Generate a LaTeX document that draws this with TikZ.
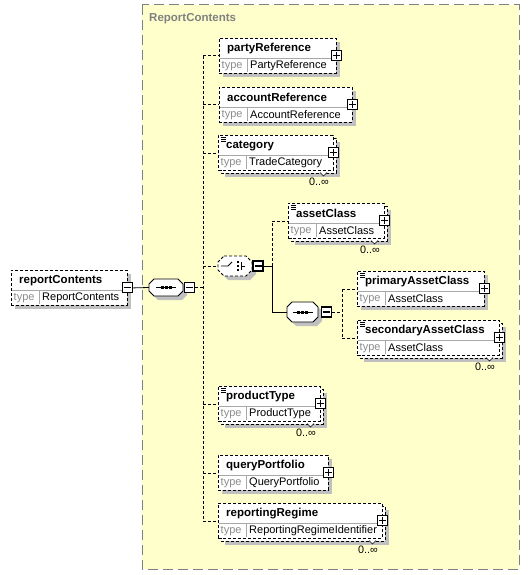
\documentclass[tikz,border=0pt]{standalone}
\usepackage{fontspec}
\setmainfont{Liberation Sans}
\usetikzlibrary{calc}
\definecolor{bgy}{HTML}{FFFFCC}
\definecolor{bgb}{HTML}{808080}
\definecolor{shd}{HTML}{C0C0C0}
\definecolor{sepg}{HTML}{A8A8A8}
\definecolor{typeg}{HTML}{8C8C8C}
\tikzset{
  elbox/.style={draw=black, dash pattern=on 3pt off 2pt, fill=white, line width=0.8pt, inner sep=0pt, anchor=north west},
  backbox/.style={draw=black, dash pattern=on 3pt off 2pt, fill=white, line width=0.8pt},
  pmbox/.style={draw=black, fill=white, line width=1.1pt, minimum size=10pt, inner sep=0pt},
  titletext/.style={inner sep=0pt, anchor=west, font=\fontsize{11.5}{13}\selectfont\bfseries},
  typelabel/.style={inner sep=0pt, anchor=west, text=typeg, font=\fontsize{11}{12}\selectfont},
  typetext/.style={inner sep=0pt, anchor=west, font=\fontsize{11}{12}\selectfont},
  occtext/.style={inner sep=0pt, anchor=north east, font=\fontsize{10.8}{12}\selectfont},
  conn/.style={draw=black, line width=0.8pt},
  dconn/.style={draw=black, line width=0.8pt, dash pattern=on 3pt off 2pt},
}
% inner parts of an element box: x, y, w, title, type, doc
\newcommand\elinner[6]{%
  \draw[sepg, line width=0.8pt] (#1+1,#2+20) -- (#1+#3-1,#2+20);
  \draw[sepg, line width=0.8pt] (#1+28,#2+20) -- (#1+28,#2+34);
  \node[titletext] at (#1+8,#2+10.5) {#4};
  \node[typelabel] at (#1+2.5,#2+28) {type};
  \node[typetext] at (#1+31,#2+28) {#5};
  \ifnum#6=1
    \draw[black, line width=0.7pt] (#1+3,#2+2.5) -- (#1+8,#2+2.5) (#1+3,#2+4.5) -- (#1+8,#2+4.5) (#1+3,#2+6.5) -- (#1+8,#2+6.5);
  \fi
}
\newcommand\plusat[1]{%
  \node[pmbox] (#1-p) at (#1.east) {};
  \draw[line width=1.1pt] ($(#1-p.center)+(-3.5,0)$) -- ($(#1-p.center)+(3.5,0)$)
    ($(#1-p.center)+(0,-3.5)$) -- ($(#1-p.center)+(0,3.5)$);
}
% single element: name, x, y, w, title, type, doc
\newcommand\sel[7]{%
  \fill[shd] (#2+4,#3+4) rectangle ++(#4,35);
  \node[elbox, minimum width=#4pt, minimum height=35pt] (#1) at (#2,#3) {};
  \elinner{#2}{#3}{#4}{#5}{#6}{#7}
  \plusat{#1}
}
% multiple element: name, x, y, w, title, type, doc
\newcommand\mel[7]{%
  \fill[shd] (#2+7,#3+7) rectangle ++(#4,35);
  \draw[backbox] (#2+3,#3+3) rectangle ++(#4,35);
  \node[elbox, minimum width=#4pt, minimum height=35pt] (#1) at (#2,#3) {};
  \elinner{#2}{#3}{#4}{#5}{#6}{#7}
  \draw[black, line width=0.6pt, fill=white] (#2+#4-13,#3+37.5) -- (#2+#4-9.5,#3+41) -- (#2+#4-6,#3+37.5);
  \node[occtext] at (#2+#4-4,#3+43) {0..∞};
  \plusat{#1}
}
% octagon: name, cx, cy, hw, hh, chamfer, style
\newcommand\octo[7]{%
  \begin{scope}[shift={(4,4)}]
    \fill[shd] (#2-#4+#6,#3-#5) -- (#2+#4-#6,#3-#5) -- (#2+#4,#3-#5+#6) -- (#2+#4,#3+#5-#6) -- (#2+#4-#6,#3+#5) -- (#2-#4+#6,#3+#5) -- (#2-#4,#3+#5-#6) -- (#2-#4,#3-#5+#6) -- cycle;
  \end{scope}
  \draw[#7, fill=white] (#2-#4+#6,#3-#5) -- (#2+#4-#6,#3-#5) -- (#2+#4,#3-#5+#6) -- (#2+#4,#3+#5-#6) -- (#2+#4-#6,#3+#5) -- (#2-#4+#6,#3+#5) -- (#2-#4,#3+#5-#6) -- (#2-#4,#3-#5+#6) -- cycle;
  \node[inner sep=0pt, minimum width=#4*2pt, minimum height=#5*2pt] (#1) at (#2,#3) {};
}
\newcommand\minusat[2]{%
  \node[pmbox] (#1) at #2 {};
  \draw[line width=1.1pt] ($(#1.center)+(-3.5,0)$) -- ($(#1.center)+(3.5,0)$);
}
\newcommand\seqicon[1]{%
  \draw[black, line width=0.9pt] ($(#1.center)+(-10,0)$) -- ($(#1.center)+(10,0)$);
  \foreach \d in {-4,0,4} {\fill[black] ($(#1.center)+(\d-1.5,-1.5)$) rectangle ++(3,3);}
}
\begin{document}
\begin{tikzpicture}[x=1pt,y=-1pt]
\useasboundingbox (0,0) rectangle (530,575);
% background group
\draw[bgb, fill=bgy, line width=1pt, dash pattern=on 10pt off 5pt] (142,5) rectangle (519,569);
\node[inner sep=0pt, anchor=west, text=bgb, font=\fontsize{11.5}{13}\selectfont\bfseries] (grp) at (149,18.5) {ReportContents};

% root element
\fill[shd] (11+4,270+4) rectangle ++(116,35);
\node[elbox, minimum width=116pt, minimum height=35pt] (rc) at (11,270) {};
\elinner{11}{270}{116}{reportContents}{ReportContents}{0}
\minusat{rcm}{(rc.east)}

% main sequence
\octo{seq1}{166}{287.5}{17}{8.5}{5}{conn}
\seqicon{seq1}
\minusat{s1m}{($(seq1.east)+(6,0)$)}
\draw[conn] (rcm.east) -- (seq1.west);

% elements
\sel{party}{219}{38}{117}{partyReference}{PartyReference}{0}
\sel{acct}{219}{87}{133}{accountReference}{AccountReference}{0}
\mel{cat}{218}{135}{115}{category}{TradeCategory}{1}
\mel{acls}{288}{203}{96}{assetClass}{AssetClass}{1}
\sel{pac}{357}{271}{127}{primaryAssetClass}{AssetClass}{1}
\mel{sac}{357}{320}{142}{secondaryAssetClass}{AssetClass}{1}
\mel{ptype}{218}{386}{102}{productType}{ProductType}{1}
\sel{qp}{218}{455}{110}{queryPortfolio}{QueryPortfolio}{0}
\mel{rr}{218}{503}{164}{reportingRegime}{ReportingRegimeIdentifier}{0}

% choice
\octo{ch}{235}{266}{17}{10}{6}{dconn}
\draw[black, line width=0.9pt] (221,266) -- (228,266) -- (232,262);
\foreach \d in {-4,0,4} {\fill[black] (237,266+\d-1.2) rectangle ++(2.4,2.4);}
\draw[black, line width=0.9pt] (241,262) -- (241,270) (241,266) -- (245,266);
\minusat{chm}{(258,266)}

% inner sequence
\octo{seq2}{302.5}{312}{15.5}{10}{5}{conn}
\seqicon{seq2}
\minusat{s2m}{(326.5,312)}

% connectors of main sequence
\coordinate (v1) at (203,287.5);
\draw[dconn] (s1m.east) -- (v1);
\draw[dconn] (v1 |- party.west) -- (v1 |- rr.west);
\foreach \n in {party,acct,cat,ch,ptype,qp,rr} {\draw[dconn] (v1 |- \n.west) -- (\n.west);}

% connectors of choice
\coordinate (v2) at (272,266);
\draw[conn] (chm.east) -- (v2);
\draw[dconn] (v2) -- (v2 |- acls.west) -- (acls.west);
\draw[conn] (v2) -- (v2 |- seq2.west) -- (seq2.west);

% connectors of inner sequence
\coordinate (v3) at (342,312);
\draw[dconn] (s2m.east) -- (v3);
\draw[dconn] (v3 |- pac.west) -- (v3 |- sac.west);
\draw[dconn] (v3 |- pac.west) -- (pac.west);
\draw[dconn] (v3 |- sac.west) -- (sac.west);
\end{tikzpicture}
\end{document}
